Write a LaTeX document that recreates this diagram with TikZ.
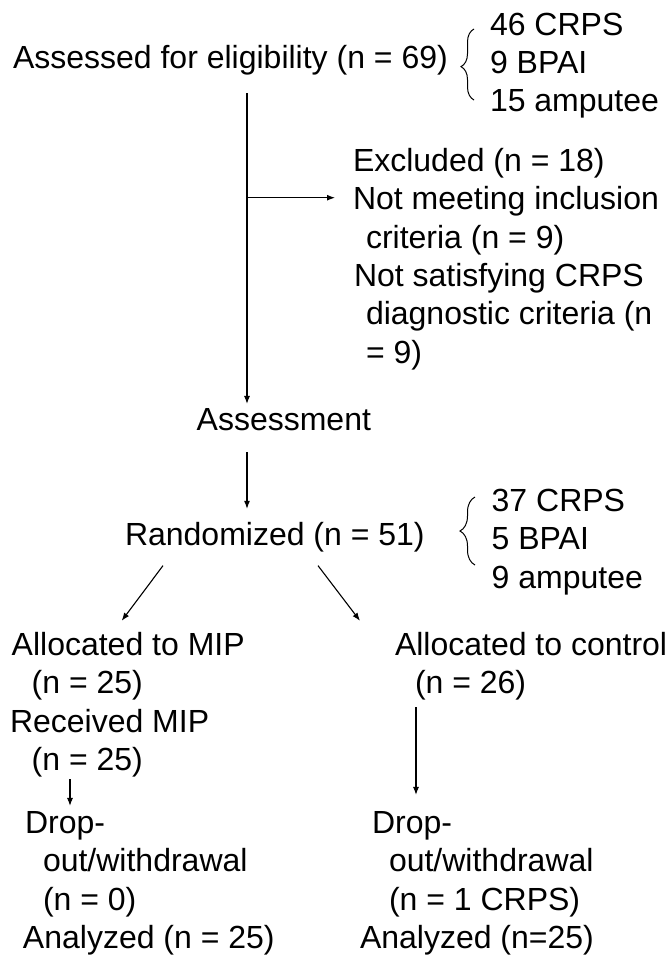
\documentclass[tikz,border=0pt]{standalone}
\usepackage{fontspec}
\setmainfont{Liberation Sans}
\usetikzlibrary{arrows.meta,decorations.pathreplacing}
\tikzset{
  txt/.style={anchor=base west, inner sep=0pt, outer sep=0pt, font=\fontsize{32}{38.4}\selectfont},
  ln/.style={line width=1.1pt, black},
  arr/.style={ln, -{Latex[length=8pt,width=6pt]}},
  brc/.style={line width=1pt, decorate, decoration={brace, amplitude=13pt, aspect=0.47}}
}
\begin{document}
\begin{tikzpicture}[x=1pt, y=-1pt]
\fill[white] (0,0) rectangle (670,959);
\useasboundingbox (0,0) rectangle (670,959);

% top block
\node[txt] (t1) at (13,68.5) {Assessed for eligibility (n = 69)};
\node[txt] (b1a) at (490,35) {46 CRPS};
\node[txt] (b1b) at (490,73.3) {9 BPAI};
\node[txt] (b1c) at (490,111.6) {15 amputee};
\coordinate (br1bot) at (474,100);
\coordinate (br1top) at (474,29);
\draw[brc] (br1bot) -- (br1top);

% excluded block
\node[txt] (e1) at (353,171.5) {Excluded (n = 18)};
\node[txt] (e2) at (353,209.8) {Not meeting inclusion};
\node[txt] (e3) at (366,248.1) {criteria (n = 9)};
\node[txt] (e4) at (354,286.4) {Not satisfying CRPS};
\node[txt] (e5) at (366,324.7) {diagnostic criteria (n};
\node[txt] (e6) at (366,363) {= 9)};

\node[txt] (a1) at (196.7,430) {Assessment};
\node[txt] (r1) at (125,545) {Randomized (n = 51)};
\node[txt] (b2a) at (491.7,511) {37 CRPS};
\node[txt] (b2b) at (491.7,549.5) {5 BPAI};
\node[txt] (b2c) at (491.7,588) {9 amputee};
\coordinate (br2bot) at (475,565);
\coordinate (br2top) at (475,497);
\draw[brc, decoration={brace, amplitude=15pt, aspect=0.5}] (br2bot) -- (br2top);

% main vertical line
\coordinate (v1) at (247,93);
\coordinate (brj) at (247,197.7);
\draw[arr, shorten >=4pt] (v1) -- (v1 |- a1.north);
\draw[arr, shorten >=18pt] (brj) -- (brj -| e2.west);
\draw[arr, shorten <=22pt, shorten >=13pt] (a1.south -| v1) -- (r1.north -| v1);

% left column
\node[txt] (m1) at (11.7,655) {Allocated to MIP};
\node[txt] (m2) at (31.7,693.5) {(n = 25)};
\node[txt] (m3) at (10,732) {Received MIP};
\node[txt] (m4) at (31.7,770.5) {(n = 25)};
\node[txt] (m5) at (25,833) {Drop-};
\node[txt] (m6) at (43,871.5) {out/withdrawal};
\node[txt] (m7) at (43,910) {(n = 0)};
\node[txt] (m8) at (23,948.5) {Analyzed (n = 25)};

% right column
\node[txt] (c1) at (395,655) {Allocated to control};
\node[txt] (c2) at (415,693.5) {(n = 26)};
\node[txt] (c3) at (372,833) {Drop-};
\node[txt] (c4) at (389,871.5) {out/withdrawal};
\node[txt] (c5) at (389,910) {(n = 1 CRPS)};
\node[txt] (c6) at (360,948.5) {Analyzed (n=25)};

% diagonal arrows
\draw[arr] ([shift={(38,14)}]r1.south west) -- ([shift={(110,-11)}]m1.north west);
\draw[arr] ([shift={(193,14)}]r1.south west) -- ([shift={(-35,-11)}]c1.north west);

% column arrows
\coordinate (xl) at (70,0);
\coordinate (xr) at (416,0);
\draw[arr, shorten <=2pt, shorten >=5pt] (m4.south -| xl) -- (m5.north -| xl);
\draw[arr, shorten <=7pt, shorten >=16pt] (c2.south -| xr) -- (c3.north -| xr);
\end{tikzpicture}
\end{document}
